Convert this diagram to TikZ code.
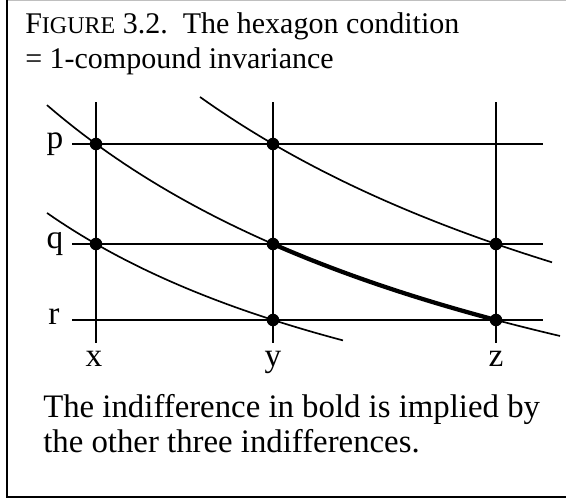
\documentclass[tikz,border=0pt]{standalone}
\usepackage{fontspec}
\setmainfont{Liberation Serif}
\usepackage{tikz}

\tikzset{
  grid line/.style={line width=1.3pt},
  curve/.style={line width=1.25pt},
  bold curve/.style={line width=3.2pt},
  dot/.style={circle, fill=black, inner sep=0pt, minimum size=9.4pt},
  lbl/.style={font=\fontsize{25}{28}\selectfont, anchor=mid, inner sep=0pt},
  txt/.style={font=\fontsize{22.5}{26}\selectfont, anchor=base west, inner sep=0pt},
  note/.style={font=\fontsize{24.6}{28}\selectfont, anchor=base west, inner sep=0pt}
}

\begin{document}
\begin{tikzpicture}[x=0.75pt, y=-0.75pt]
            \useasboundingbox (0,0) rectangle (566,500);
            % frame
            \draw[gray!50, line width=0.8pt] (8,0.5) -- (566,0.5);
            \draw[line width=1.4pt] (7,0) -- (7,497) -- (566,497);
            % caption
            \node[txt] (title1) at (25,33) {F{\fontsize{18}{20}\selectfont IGURE} 3.2.\ \ The hexagon condition};
            \node[txt] (title2) at (25,68) {= 1-compound invariance};
            % grid
            \coordinate (xt) at (96,102);  \coordinate (xb) at (96,343);
            \coordinate (yt) at (273,102); \coordinate (yb) at (273,343);
            \coordinate (zt) at (496,102); \coordinate (zb) at (496,343);
            \coordinate (pl) at (72,144);  \coordinate (pr) at (543,144);
            \coordinate (ql) at (72,244);  \coordinate (qr) at (543,244);
            \coordinate (rl) at (72,320);  \coordinate (rr) at (543,320);
            \draw[grid line] (xt) -- (xb);
            \draw[grid line] (yt) -- (yb);
            \draw[grid line] (zt) -- (zb);
            \draw[grid line] (pl) -- (pr);
            \draw[grid line] (ql) -- (qr);
            \draw[grid line] (rl) -- (rr);
            \node[lbl] (p) at (55,145) {p};
            \node[lbl] (q) at (55,245) {q};
            \node[lbl] (r) at (54,321) {r};
            \node[lbl] (x) at (94,363) {x};
            \node[lbl] (y) at (273,363) {y};
            \node[lbl] (z) at (496,363) {z};
            % indifference curves
            \draw[curve] plot[domain=47:560, samples=60] (\x, {587.5-2696.5/((\x+512)/100)});
            \draw[curve] plot[domain=200:552, samples=50] (\x, {581.2-3287.9/((\x+479)/100)});
            \draw[curve] plot[domain=47:343, samples=50] (\x, {545.8-1587.7/((\x+430)/100)});
            \draw[bold curve, line cap=round] plot[domain=273:496, samples=40] (\x, {587.5-2696.5/((\x+512)/100)});
            % points
            \node[dot] (xp) at (96,144) {};
            \node[dot] (yp) at (273,144) {};
            \node[dot] (xq) at (96,244) {};
            \node[dot] (yq) at (273,244) {};
            \node[dot] (zq) at (496,244) {};
            \node[dot] (yr) at (273,320) {};
            \node[dot] (zr) at (496,320) {};
            % note
            \node[note] (note1) at (43,417) {The indifference in bold is implied by};
            \node[note] (note2) at (43,452) {the other three indifferences.};
\end{tikzpicture}
\end{document}
